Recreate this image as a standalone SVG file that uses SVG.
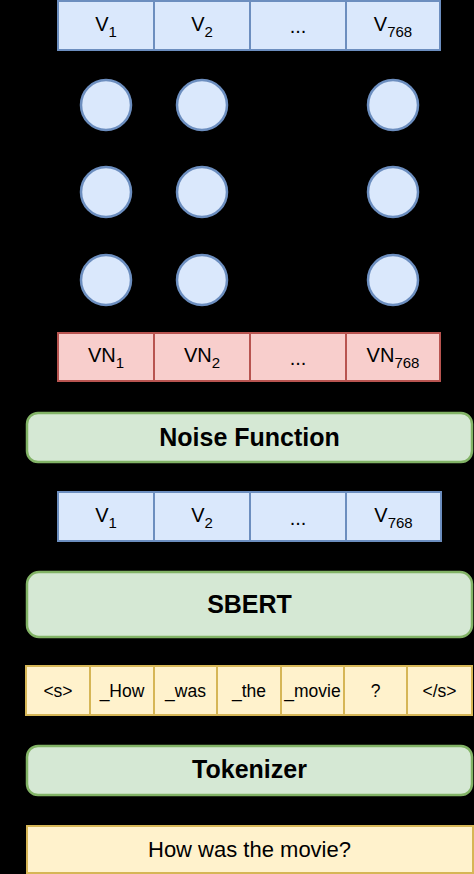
<svg xmlns="http://www.w3.org/2000/svg" width="474" height="874" viewBox="0 0 474 874">
<defs>
<marker id="arr" viewBox="0 0 10 10" refX="9" refY="5" markerWidth="7" markerHeight="7" orient="auto">
<path d="M0,0 L10,5 L0,10 z" fill="#000"/>
</marker>
<style>
text{font-family:"Liberation Sans",Arial,Helvetica,sans-serif;fill:#000;text-anchor:middle}
.blue{fill:#dae8fc;stroke:#6c8ebf;stroke-width:2}
.red{fill:#f8cecc;stroke:#b85450;stroke-width:2}
.green{fill:#d5e8d4;stroke:#82b366;stroke-width:2.5}
.yellow{fill:#fff2cc;stroke:#d6b656;stroke-width:2}
.neuron{fill:#dae8fc;stroke:#6c8ebf;stroke-width:2.5}
.v{font-size:20px}
.sub{font-size:15px}
.big{font-size:25px;font-weight:bold}
.tok{font-size:17.5px}
.in{font-size:22px}
.conn{stroke:#000;stroke-width:1.5;fill:none;marker-end:url(#arr)}
</style>
</defs>
<rect x="0" y="0" width="474" height="874" fill="#000"/>

<g id="connectors">
<line class="conn" x1="249.5" y1="826" x2="249.5" y2="796"/>
<line class="conn" x1="249.5" y1="746" x2="249.5" y2="716"/>
<line class="conn" x1="249.5" y1="666" x2="249.5" y2="638"/>
<line class="conn" x1="249.5" y1="572" x2="249.5" y2="542"/>
<line class="conn" x1="249.5" y1="492" x2="249.5" y2="463"/>
<line class="conn" x1="249.5" y1="413" x2="249.5" y2="382"/>
<line class="conn" x1="106" y1="333" x2="106" y2="306"/>
<line class="conn" x1="202" y1="333" x2="202" y2="306"/>
<line class="conn" x1="393" y1="333" x2="393" y2="306"/>
<line class="conn" x1="106" y1="255" x2="106" y2="218"/>
<line class="conn" x1="202" y1="255" x2="202" y2="218"/>
<line class="conn" x1="393" y1="255" x2="393" y2="218"/>
<line class="conn" x1="106" y1="167" x2="106" y2="131"/>
<line class="conn" x1="202" y1="167" x2="202" y2="131"/>
<line class="conn" x1="393" y1="167" x2="393" y2="131"/>
<line class="conn" x1="106" y1="80" x2="106" y2="51"/>
<line class="conn" x1="202" y1="80" x2="202" y2="51"/>
<line class="conn" x1="393" y1="80" x2="393" y2="51"/>
</g>

<g id="output-vector">
<rect class="blue" x="58" y="1" width="96" height="49"/>
<rect class="blue" x="154" y="1" width="96" height="49"/>
<rect class="blue" x="250" y="1" width="96" height="49"/>
<rect class="blue" x="346" y="1" width="94" height="49"/>
<text class="v" x="106" y="31">V<tspan class="sub" dy="6">1</tspan></text>
<text class="v" x="202" y="31">V<tspan class="sub" dy="6">2</tspan></text>
<text class="v" x="298" y="33">...</text>
<text class="v" x="393" y="31">V<tspan class="sub" dy="6">768</tspan></text>
</g>

<g id="neurons-row1">
<circle class="neuron" cx="106" cy="105" r="25"/>
<circle class="neuron" cx="202" cy="105" r="25"/>
<circle class="neuron" cx="393" cy="105" r="25"/>
</g>
<g id="neurons-row2">
<circle class="neuron" cx="106" cy="192" r="25"/>
<circle class="neuron" cx="202" cy="192" r="25"/>
<circle class="neuron" cx="393" cy="192" r="25"/>
</g>
<g id="neurons-row3">
<circle class="neuron" cx="106" cy="280" r="25"/>
<circle class="neuron" cx="202" cy="280" r="25"/>
<circle class="neuron" cx="393" cy="280" r="25"/>
</g>

<g id="noisy-vector">
<rect class="red" x="58" y="333" width="96" height="48"/>
<rect class="red" x="154" y="333" width="96" height="48"/>
<rect class="red" x="250" y="333" width="96" height="48"/>
<rect class="red" x="346" y="333" width="94" height="48"/>
<text class="v" x="106" y="362">VN<tspan class="sub" dy="6">1</tspan></text>
<text class="v" x="202" y="362">VN<tspan class="sub" dy="6">2</tspan></text>
<text class="v" x="298" y="365">...</text>
<text class="v" x="393" y="362">VN<tspan class="sub" dy="6">768</tspan></text>
</g>

<g id="noise-function">
<rect class="green" x="27" y="413" width="445" height="49" rx="11" ry="11"/>
<text class="big" x="249.5" y="446">Noise Function</text>
</g>

<g id="embedding-vector">
<rect class="blue" x="58" y="492" width="96" height="49"/>
<rect class="blue" x="154" y="492" width="96" height="49"/>
<rect class="blue" x="250" y="492" width="96" height="49"/>
<rect class="blue" x="346" y="492" width="95" height="49"/>
<text class="v" x="106" y="522">V<tspan class="sub" dy="6">1</tspan></text>
<text class="v" x="202" y="522">V<tspan class="sub" dy="6">2</tspan></text>
<text class="v" x="298" y="525">...</text>
<text class="v" x="393.5" y="522">V<tspan class="sub" dy="6">768</tspan></text>
</g>

<g id="sbert">
<rect class="green" x="27" y="572" width="445" height="65" rx="12" ry="12"/>
<text class="big" x="249.5" y="613">SBERT</text>
</g>

<g id="tokens">
<rect class="yellow" x="26" y="666" width="64" height="49"/>
<rect class="yellow" x="90" y="666" width="64" height="49"/>
<rect class="yellow" x="154" y="666" width="63" height="49"/>
<rect class="yellow" x="217" y="666" width="64" height="49"/>
<rect class="yellow" x="281" y="666" width="63" height="49"/>
<rect class="yellow" x="344" y="666" width="63" height="49"/>
<rect class="yellow" x="407" y="666" width="65" height="49"/>
<text class="tok" x="58" y="697">&lt;s&gt;</text>
<text class="tok" x="122" y="697">_How</text>
<text class="tok" x="185.5" y="697">_was</text>
<text class="tok" x="249" y="697">_the</text>
<text class="tok" x="312.5" y="697">_movie</text>
<text class="tok" x="375.5" y="697">?</text>
<text class="tok" x="439.5" y="697">&lt;/s&gt;</text>
</g>

<g id="tokenizer">
<rect class="green" x="27" y="746" width="445" height="49" rx="11" ry="11"/>
<text class="big" x="249.5" y="778">Tokenizer</text>
</g>

<g id="input-sentence">
<rect class="yellow" x="27" y="826" width="446" height="47"/>
<text class="in" x="249.5" y="857">How was the movie?</text>
</g>
</svg>
